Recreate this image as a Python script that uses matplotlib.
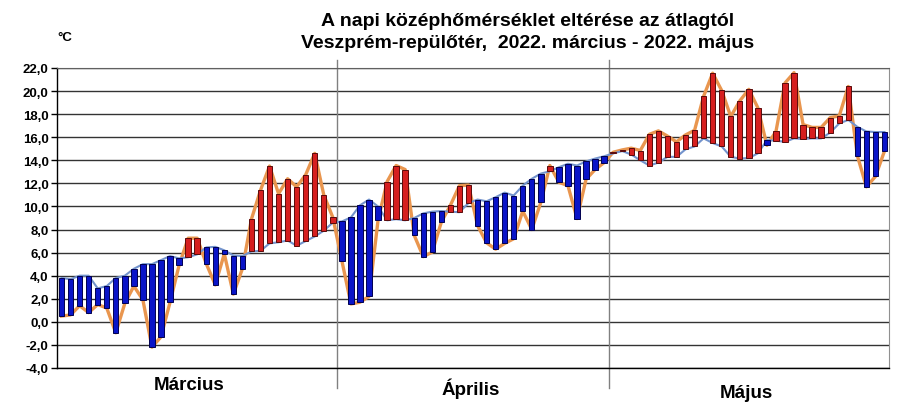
import matplotlib
matplotlib.use("Agg")
import matplotlib.pyplot as plt
import numpy as np

plt.rcParams['font.family'] = ['Liberation Sans', 'DejaVu Sans']

# Daily average (climatology) and actual daily mean temperature, 1 Mar - 31 May 2022
avg = [3.8, 3.7, 4.0, 4.0, 2.9, 3.1, 3.8, 4.0, 4.6, 5.0,
       5.0, 5.35, 5.7, 5.5, 5.6, 5.85, 6.45, 6.5, 6.2, 5.75,
       5.7, 6.1, 6.15, 6.8, 6.9, 7.05, 6.6, 7.0, 7.4, 7.9,
       8.6,
       8.7, 9.05, 10.1, 10.6, 10.0, 8.8, 8.9, 8.8, 9.0, 9.4,
       9.55, 9.6, 9.55, 9.5, 10.3, 10.6, 10.45, 10.8, 11.2, 10.95,
       11.8, 12.4, 12.85, 13.05, 13.4, 13.7, 13.55, 13.9, 14.15, 14.35,
       14.6, 14.8, 14.5, 14.0, 13.55, 13.8, 14.3, 14.3, 14.95, 15.2,
       15.9, 15.5, 15.2, 14.3, 14.15, 14.2, 14.6, 15.75, 15.7, 15.6,
       15.9, 15.85, 15.9, 15.9, 16.4, 17.2, 17.5, 16.9, 16.5, 16.45,
       16.45]
actual = [0.5, 0.6, 1.4, 0.8, 1.5, 1.2, -0.95, 1.6, 3.1, 1.9,
          -2.2, -1.3, 1.7, 4.9, 7.25, 7.25, 5.05, 3.2, 5.9, 2.4,
          4.6, 8.9, 11.4, 13.5, 11.1, 12.4, 11.7, 12.75, 14.6, 11.0,
          9.05,
          5.3, 1.55, 1.7, 2.2, 8.8, 12.15, 13.55, 13.2, 7.5, 5.65,
          6.05, 8.65, 10.1, 11.8, 11.85, 8.35, 6.85, 6.3, 6.8, 7.2,
          9.6, 8.0, 10.35, 13.55, 12.1, 11.8, 8.95, 12.35, 13.2, 13.8,
          14.7, 14.9, 15.05, 14.85, 16.25, 16.55, 16.1, 15.6, 16.2, 16.6,
          19.55, 21.55, 20.05, 17.8, 19.15, 20.15, 18.55, 15.3, 16.5, 20.7,
          21.6, 17.1, 16.85, 16.85, 17.7, 17.85, 20.4, 14.4, 11.7, 12.6,
          14.8]
months = ["Március", "Április", "Május"]
month_days = [31, 30, 31]
yticks = [-4, -2, 0, 2, 4, 6, 8, 10, 12, 14, 16, 18, 20, 22]
title1 = "A napi középhőmérséklet eltérése az átlagtól"
title2 = "Veszprém-repülőtér,  2022. március - 2022. május"

avg_a = np.array(avg)
act_a = np.array(actual)
x = np.arange(len(avg_a))

fig = plt.figure(figsize=(9, 4.14), dpi=100)
ax = fig.add_axes([57/900, 1-369/414, (889-57)/900, (369-69)/414])

ax.set_xlim(-0.5, len(x) - 0.5)
ax.set_ylim(-4, 22)

for v in yticks:
    ax.axhline(v, color='#333333', lw=1.0, zorder=0)

# lines
ax.plot(x, act_a, color='#E9964F', lw=2.4, zorder=2, solid_joinstyle='round')
ax.plot(x, avg_a, color='#7393CC', lw=1.5, zorder=2, solid_joinstyle='round')

# up/down bars
up = act_a >= avg_a
bottom = np.minimum(avg_a, act_a)
height = np.abs(act_a - avg_a)
ax.bar(x[up], height[up], bottom=bottom[up], width=0.6,
       color='#D61F1F', edgecolor='#5a0a0a', linewidth=0.7, zorder=3)
ax.bar(x[~up], height[~up], bottom=bottom[~up], width=0.6,
       color='#0A14C8', edgecolor='#000050', linewidth=0.7, zorder=3)

# month separators and labels
starts = np.cumsum([0] + month_days)
for s in starts[1:-1]:
    ax.plot([s - 0.5, s - 0.5], [-5.75, 22.7], color='#808080', lw=1.0,
            clip_on=False, zorder=1)
label_y = [-5.45, -5.75, -6.1]
label_dx = [-0.9, -0.3, -0.3]
for i, m in enumerate(months):
    c = (starts[i] + starts[i + 1] - 1) / 2 + label_dx[i]
    ax.text(c, label_y[i], m, ha='center', va='center', fontsize=13.5,
            fontweight='bold')

ax.set_yticks(yticks)
ax.set_yticklabels([f"{v:.1f}".replace('.', ',') for v in yticks],
                   fontsize=9.5, fontweight='bold')
ax.set_xticks([])
ax.tick_params(axis='y', direction='out', length=4, width=1, pad=2)

for sp in ['left', 'bottom']:
    ax.spines[sp].set_color('black')
    ax.spines[sp].set_linewidth(1.0)
ax.spines['right'].set_color('#909090')
ax.spines['top'].set_color('#606060')

fig.text(528/900, 1-21/414, title1, ha='center', va='center', fontsize=14,
         fontweight='bold')
fig.text(528/900, 1-44/414, title2, ha='center', va='center', fontsize=14,
         fontweight='bold')
fig.text(65/900, 1-38/414, "°C", ha='center', va='center', fontsize=9.5,
         fontweight='bold')

fig.savefig("out.png", dpi=100)
